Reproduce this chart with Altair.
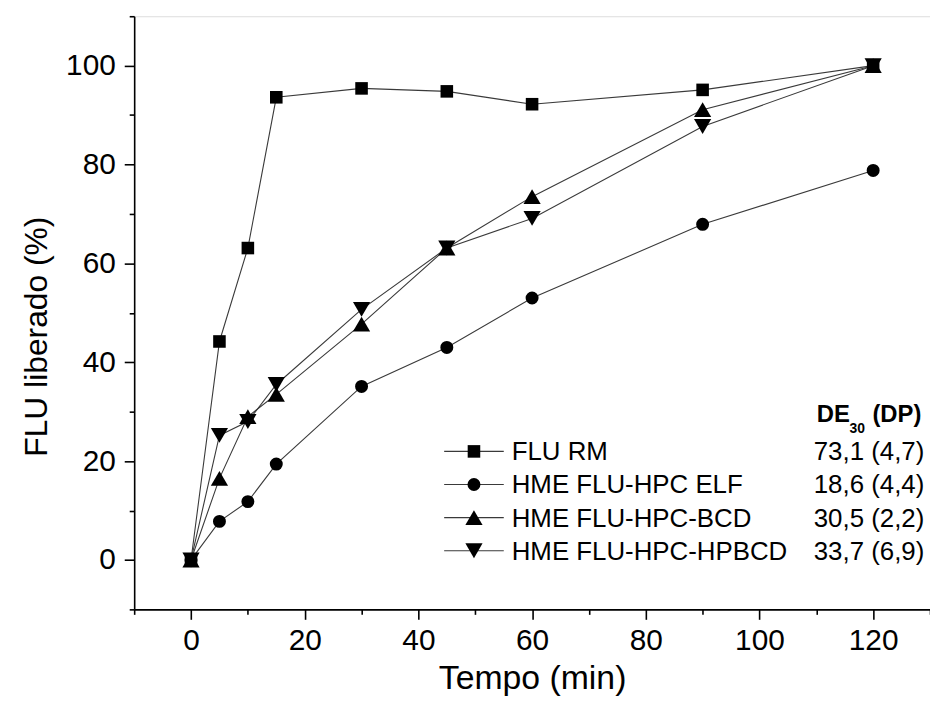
import altair as alt
import pandas as pd

# ---- data ----
tempo = [0, 5, 10, 15, 30, 45, 60, 90, 120]
series_names = ["FLU RM", "HME FLU-HPC ELF", "HME FLU-HPC-BCD", "HME FLU-HPC-HPBCD"]
flu_rm = [0, 44.2, 63.1, 93.6, 95.4, 94.8, 92.2, 95.1, 100]
hme_elf = [0, 7.8, 11.8, 19.4, 35.1, 43.0, 53.0, 67.9, 78.8]
hme_bcd = [0, 16.5, 29.0, 33.5, 47.7, 63.1, 73.5, 91.1, 100]
hme_hpbcd = [0, 25.2, 28.0, 35.5, 50.7, 63.1, 69.1, 87.7, 100]
de30_labels = ["73,1 (4,7)", "18,6 (4,4)", "30,5 (2,2)", "33,7 (6,9)"]

x_ticks = list(range(-10, 131, 10))
y_ticks = list(range(-10, 111, 10))

all_series = [flu_rm, hme_elf, hme_bcd, hme_hpbcd]
rows = []
for name, vals in zip(series_names, all_series):
    for t, v in zip(tempo, vals):
        rows.append({"tempo": t, "valor": v, "serie": name})
df = pd.DataFrame(rows)

legend_df = pd.DataFrame({
    "serie": series_names,
    "de30": de30_labels,
    "row": list(range(len(series_names))),
})

FONT = "Liberation Sans"
shape_scale = alt.Scale(domain=series_names,
                        range=["square", "circle", "triangle-up", "triangle-down"])
size_scale = alt.Scale(type="ordinal", domain=series_names, range=[160, 170, 300, 300])

x_axis = alt.Axis(
    values=x_ticks,
    labelExpr="datum.value % 20 === 0 ? datum.label : ''",
    tickSize={"condition": {"test": "datum.value % 20 === 0", "value": 10}, "value": 5},
    title="Tempo (min)",
    grid=False,
    labelFontSize=30, titleFontSize=34,
    labelPadding=6, titlePadding=7,
    labelFont=FONT, titleFont=FONT,
    titleFontWeight="normal",
    labelColor="black", titleColor="black",
    domainColor="black", tickColor="black",
    domainWidth=1.6, tickWidth=1.6,
)
y_axis = alt.Axis(
    values=y_ticks,
    labelExpr="datum.value % 20 === 0 ? datum.label : ''",
    tickSize={"condition": {"test": "datum.value % 20 === 0", "value": 10}, "value": 5},
    title="FLU liberado (%)",
    grid=False,
    labelFontSize=30, titleFontSize=32,
    labelPadding=9, titlePadding=12,
    titleY=322,
    labelFont=FONT, titleFont=FONT,
    titleFontWeight="normal",
    labelColor="black", titleColor="black",
    domainColor="black", tickColor="black",
    domainWidth=1.6, tickWidth=1.6,
)

x_enc = alt.X("tempo:Q", scale=alt.Scale(domain=[-10, 130], nice=False, zero=False), axis=x_axis)
y_enc = alt.Y("valor:Q", scale=alt.Scale(domain=[-10, 110], nice=False, zero=False), axis=y_axis)

lines = alt.Chart(df).mark_line(color="#3a3a3a", strokeWidth=1.1).encode(
    x=x_enc, y=y_enc, detail="serie:N", order="tempo:Q"
)
points = alt.Chart(df).mark_point(filled=True, color="black", opacity=1).encode(
    x=x_enc, y=y_enc,
    shape=alt.Shape("serie:N", scale=shape_scale, legend=None),
    size=alt.Size("serie:N", scale=size_scale, legend=None),
)
main = alt.layer(lines, points)

# ---- custom legend (lower right) ----
row_y = alt.Y("row:Q", scale=alt.Scale(domain=[0, 3], range=[438, 538]), axis=None)
leg_rule = alt.Chart(legend_df).mark_rule(color="#3a3a3a", strokeWidth=1.1).encode(
    x=alt.value(312), x2=alt.value(372), y=row_y
)
leg_sym = alt.Chart(legend_df).mark_point(filled=True, color="black", opacity=1).encode(
    x=alt.value(342), y=row_y,
    shape=alt.Shape("serie:N", scale=shape_scale, legend=None),
    size=alt.Size("serie:N", scale=size_scale, legend=None),
)
leg_name = alt.Chart(legend_df).mark_text(
    align="left", baseline="middle", font=FONT, fontSize=26, color="black", dy=1
).encode(x=alt.value(380), y=row_y, text="serie:N")
leg_val = alt.Chart(legend_df).mark_text(
    align="left", baseline="middle", font=FONT, fontSize=26, color="black", dy=1
).encode(x=alt.value(684), y=row_y, text="de30:N")
legend = alt.layer(leg_rule, leg_sym, leg_name, leg_val)

one = pd.DataFrame({"k": [0]})
hdr_de = alt.Chart(one).mark_text(
    align="left", baseline="alphabetic", font=FONT, fontSize=24, fontWeight="bold", color="black"
).encode(x=alt.value(687), y=alt.value(408), text=alt.value("DE"))
hdr_sub = alt.Chart(one).mark_text(
    align="left", baseline="alphabetic", font=FONT, fontSize=14, fontWeight="bold", color="black"
).encode(x=alt.value(720), y=alt.value(419), text=alt.value("30"))
hdr_dp = alt.Chart(one).mark_text(
    align="left", baseline="alphabetic", font=FONT, fontSize=24, fontWeight="bold", color="black"
).encode(x=alt.value(743), y=alt.value(408), text=alt.value("(DP)"))

chart = alt.layer(main, legend, hdr_de, hdr_sub, hdr_dp).resolve_scale(
    y="independent"
).properties(
    width=801, height=597,
    autosize=alt.AutoSizeParams(type="none"),
    padding={"left": 127, "top": 6, "right": 0, "bottom": 100},
).configure_view(stroke=None).configure(background="white")

chart.save("out.html", embed_options={"renderer": "svg", "actions": False})
